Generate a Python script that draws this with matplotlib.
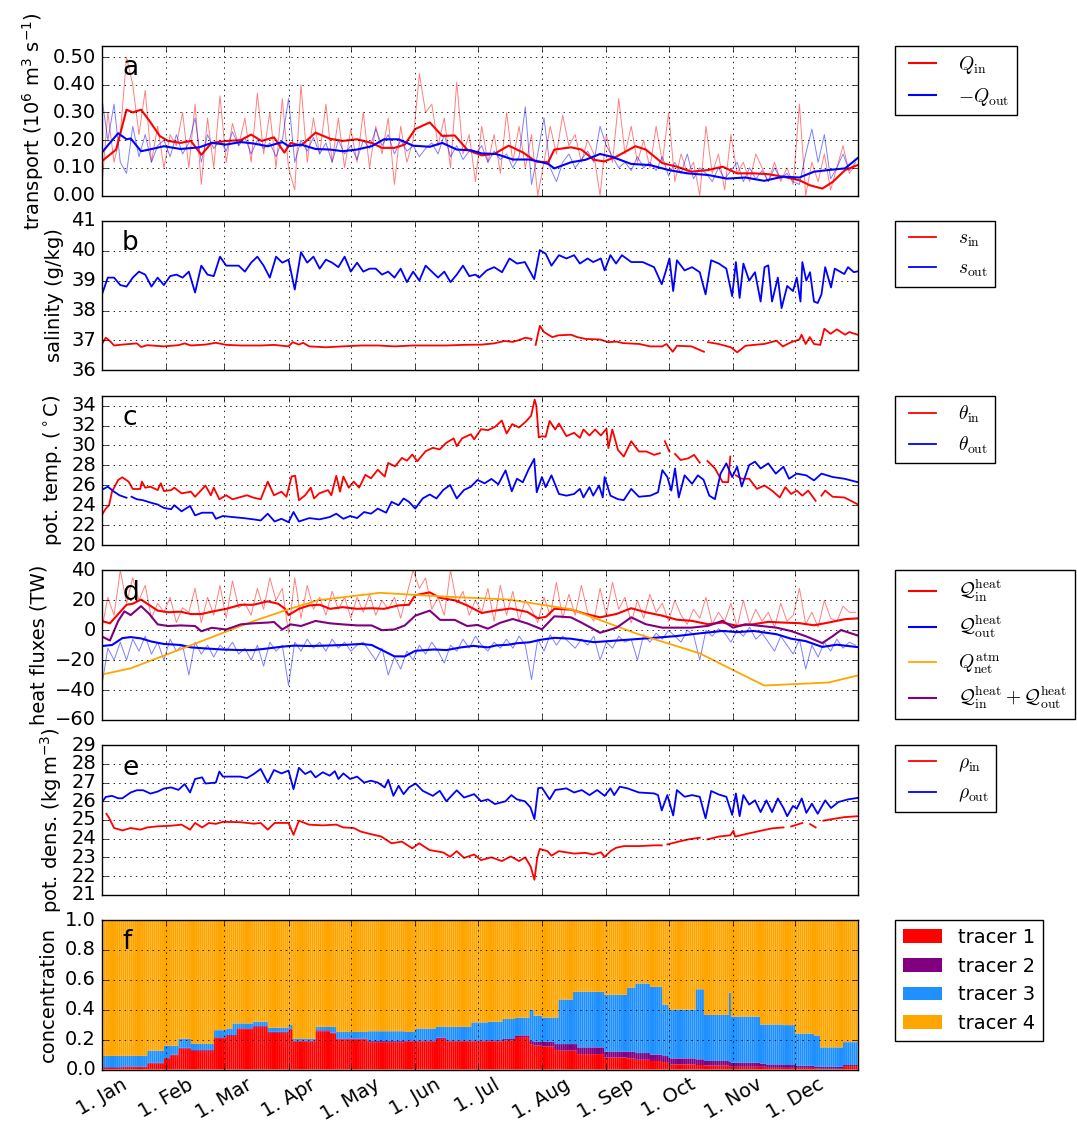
import numpy as np
import matplotlib
matplotlib.use('Agg')
import matplotlib.pyplot as plt
import matplotlib.dates as mdates
from matplotlib.ticker import FuncFormatter, FormatStrFormatter, MultipleLocator, NullFormatter
import datetime as dt

nan = np.nan

# ---------------- panel a: volume transport (10^6 m^3/s) ----------------
# raw values, every 3rd day
qin_raw = [0.02, 0.30, 0.12, 0.22, 0.50, 0.40, 0.22, 0.38, 0.12, 0.25,
           0.10, 0.22, 0.18, 0.30, 0.10, 0.33, 0.04, 0.28, 0.10, 0.36,
           0.12, 0.26, 0.18, 0.28, 0.12, 0.37, 0.15, 0.30, 0.10, 0.35,
           0.10, 0.02, 0.40, 0.12, 0.28, 0.15, 0.33, 0.12, 0.28, 0.10,
           0.24, 0.12, 0.30, 0.10, 0.25, 0.15, 0.28, 0.04, 0.25, 0.12,
           0.20, 0.44, 0.30, 0.33, 0.18, 0.28, 0.10, 0.41, 0.15, 0.22,
           0.05, 0.25, 0.12, 0.22, 0.08, 0.30, 0.12, 0.25, 0.10, 0.22,
           0.00, 0.12, 0.25, 0.15, 0.29, 0.18, 0.22, 0.12, 0.20, 0.15,
           0.00, 0.22, 0.12, 0.35, 0.15, 0.25, 0.12, 0.20, 0.10, 0.25,
           0.12, 0.30, 0.05, 0.15, 0.08, 0.12, 0.00, 0.25, 0.08, 0.15,
           0.02, 0.22, 0.08, 0.12, 0.05, 0.15, 0.10, 0.05, 0.12, 0.05,
           0.10, 0.04, 0.33, 0.00, 0.12, 0.05, 0.15, 0.02, 0.10, 0.18,
           0.08, 0.11]
qout_raw = [0.36, 0.20, 0.33, 0.12, 0.08, 0.25, 0.14, 0.22, 0.12, 0.18,
            0.20, 0.14, 0.22, 0.15, 0.19, 0.28, 0.12, 0.22, 0.17, 0.20,
            0.16, 0.23, 0.18, 0.21, 0.15, 0.20, 0.17, 0.19, 0.14, 0.20,
            0.35, 0.12, 0.20, 0.16, 0.21, 0.15, 0.19, 0.12, 0.20, 0.15,
            0.18, 0.13, 0.20, 0.17, 0.24, 0.18, 0.22, 0.15, 0.20, 0.16,
            0.18, 0.14, 0.17, 0.19, 0.15, 0.22, 0.14, 0.18, 0.13, 0.16,
            0.15, 0.18, 0.12, 0.16, 0.13, 0.15, 0.10, 0.14, 0.32, 0.04,
            0.15, 0.28, 0.10, 0.05, 0.12, 0.15, 0.10, 0.13, 0.16, 0.12,
            0.25, 0.18, 0.14, 0.10, 0.12, 0.09, 0.14, 0.10, 0.12, 0.09,
            0.14, 0.07, 0.12, 0.08, 0.15, 0.06, 0.10, 0.08, 0.05, 0.10,
            0.06, 0.09, 0.12, 0.05, 0.10, 0.06, 0.09, 0.05, 0.10, 0.06,
            0.08, 0.05, 0.04, 0.15, 0.24, 0.12, 0.22, 0.06, 0.10, 0.15,
            0.09, 0.12]
# smoothed
qin_s_days = [0, 7, 12, 15, 19, 23, 28, 32, 38, 43, 48, 53, 60, 67, 72, 77, 83, 88, 91, 96,
              103, 110, 116, 123, 130, 135, 141, 146, 151, 158, 164, 170, 176, 183, 189, 196, 203, 209, 215, 218,
              226, 231, 237, 242, 248, 257, 262, 270, 277, 284, 292, 299, 306, 314, 321, 328, 336, 341, 347, 352,
              358, 364]
qin_s = [0.123, 0.166, 0.31, 0.30, 0.31, 0.27, 0.215, 0.197, 0.19, 0.197,
         0.147, 0.19, 0.197, 0.20, 0.22, 0.197, 0.21, 0.155, 0.19, 0.18,
         0.227, 0.205, 0.197, 0.203, 0.19, 0.172, 0.172, 0.184, 0.24, 0.264,
         0.215, 0.217, 0.166, 0.145, 0.15, 0.18, 0.155, 0.123, 0.12, 0.166,
         0.174, 0.166, 0.129, 0.123, 0.141, 0.178, 0.166, 0.117, 0.104, 0.086,
         0.092, 0.104, 0.08, 0.08, 0.077, 0.068, 0.055, 0.037, 0.025, 0.049,
         0.092, 0.11]
qout_s_days = [0, 4, 8, 12, 14, 19, 23, 30, 38, 47, 53, 60, 67, 73, 80, 87, 90, 96, 103, 110,
               116, 123, 130, 136, 143, 150, 158, 164, 171, 178, 183, 190, 198, 206, 212, 215, 218, 226, 233, 240,
               246, 255, 264, 273, 282, 292, 301, 310, 319, 328, 336, 343, 350, 358, 364]
qout_s = [0.154, 0.19, 0.225, 0.203, 0.206, 0.16, 0.166, 0.178, 0.168, 0.174,
          0.19, 0.184, 0.193, 0.188, 0.178, 0.193, 0.178, 0.184, 0.168, 0.166,
          0.16, 0.166, 0.178, 0.203, 0.203, 0.18, 0.176, 0.19, 0.166, 0.163,
          0.152, 0.15, 0.13, 0.13, 0.12, 0.114, 0.098, 0.12, 0.129, 0.15,
          0.139, 0.114, 0.11, 0.092, 0.08, 0.074, 0.061, 0.065, 0.053, 0.068,
          0.065, 0.086, 0.092, 0.098, 0.135]

# ---------------- panel b: salinity (g/kg) ----------------
sin_days = [0, 2, 4, 6, 10, 17, 19, 22, 30, 37, 40, 43, 50, 55, 60, 67, 77, 83, 90, 92,
            95, 97, 100, 108, 116, 125, 133, 141, 150, 158, 166, 174, 183, 189, 194, 198, 201, 204, 207, 208,
            209, 211, 213, 217, 220, 226, 229, 233, 240, 244, 248, 251, 259, 264, 270, 272, 275, 277, 284, 290,
            291, 292, 297, 303, 306, 310, 314, 319, 325, 328, 332, 336, 337, 339, 341, 343, 346, 348, 351, 354,
            358, 360, 364]
sin_vals = [36.86, 37.09, 36.98, 36.83, 36.86, 36.9, 36.78, 36.84, 36.8, 36.84,
            36.9, 36.83, 36.86, 36.92, 36.85, 36.83, 36.83, 36.85, 36.8, 36.94,
            36.86, 36.92, 36.8, 36.77, 36.8, 36.83, 36.83, 36.8, 36.83, 36.83,
            36.83, 36.85, 36.86, 36.9, 36.98, 36.95, 37.01, 37.09, 37.05, nan,
            36.85, 37.49, 37.28, 37.11, 37.17, 37.19, 37.11, 37.05, 37.03, 36.94,
            36.96, 36.91, 36.88, 36.8, 36.8, 36.88, 36.62, 36.82, 36.8, 36.62,
            nan, 36.94, 36.88, 36.77, 36.6, 36.82, 36.85, 36.88, 36.99, 36.8,
            36.94, 37.03, 37.19, 36.88, 37.11, 36.88, 36.85, 37.39, 37.22, 37.37,
            37.19, 37.28, 37.19]
sout_days = [0, 3, 6, 9, 12, 15, 18, 21, 24, 27, 30, 33, 36, 39, 42, 45, 48, 51, 54, 57,
             60, 63, 66, 69, 72, 75, 78, 81, 84, 87, 90, 93, 96, 99, 102, 105, 108, 111, 114, 117,
             120, 123, 126, 129, 132, 135, 138, 141, 144, 147, 150, 153, 156, 159, 162, 165, 168, 171, 174, 177,
             180, 181.8, 185.4, 189, 192.8, 196.4, 200, 203.8, 206.5, 208.3, 211, 213.8, 216.6, 220.2, 223.8, 227.5,
             230.3, 234, 236.7, 240.4, 242.2, 245, 247.7, 250.5, 255, 260.5, 266, 269.7, 271.5, 273.4, 275.2, 277,
             280.7, 284.3, 288, 290.8, 293.5, 297.2, 300.8, 303.6, 305.4, 307.2, 309, 311.8, 314.6, 317.3, 319.2,
             321, 322.8, 325.6, 327.4, 330.1, 332.9, 334.7, 336.5, 337.4, 339.3, 341.1, 343, 344.8, 346.6, 348.4,
             351.2, 353, 357.6, 359.4, 362.2, 364]
sout_vals = [38.5, 39.1, 39.1, 38.85, 38.8, 39.1, 39.3, 39.2, 38.8, 39.1,
             38.85, 39.15, 39.2, 39.1, 39.3, 38.6, 39.5, 39.2, 39.15, 39.8,
             39.5, 39.5, 39.5, 39.3, 39.6, 39.8, 39.5, 39.1, 39.8, 39.6,
             39.7, 38.7, 39.95, 39.6, 39.8, 39.4, 39.7, 39.6, 39.45, 39.8,
             39.3, 39.6, 39.3, 39.4, 39.4, 39.2, 39.3, 39.1, 39.4, 38.95,
             39.3, 39.0, 39.5, 39.3, 39.1, 39.3, 38.95, 39.2, 39.5, 39.15,
             39.2, 39.1, 39.34, 39.45, 39.28, 39.74, 39.57, 39.62, 39.28, 39.05,
             40.02, 39.9, 39.5, 39.85, 39.74, 39.85, 39.57, 39.74, 39.62, 39.74,
             39.34, 39.85, 39.57, 39.85, 39.62, 39.62, 39.45, 38.88, 39.28, 39.74,
             38.65, 39.68, 39.34, 39.45, 39.28, 38.54, 39.68, 39.57, 39.4, 38.48,
             39.62, 38.42, 39.57, 39.0, 39.28, 38.3, 39.45, 39.51, 38.3, 39.1,
             38.08, 38.82, 38.65, 39.1, 38.3, 39.62, 39.0, 39.28, 38.3, 38.25,
             38.54, 39.45, 38.77, 39.4, 39.22, 39.45, 39.28, 39.31]

# ---------------- panel c: potential temperature (deg C) ----------------
thin_days = [0, 2, 3.6, 5, 8, 10, 13, 15, 18.6, 19.4, 21, 23.5, 27, 28.5, 30, 33.5, 35, 38.5, 43, 45,
             50, 52.6, 54, 56.7, 60, 63, 70, 73.3, 76.6, 80, 83, 86.6, 89, 91.5, 93.2, 95, 98, 100.7, 102.3, 104.8,
             109, 110.6, 113, 114.8, 116.4, 119, 121.4, 124, 127, 129.7, 133, 136.3, 138, 141.3, 144.6, 147, 149.6, 152, 156, 159.5,
             162.8, 166, 169.5, 171, 173.6, 177.8, 179.4, 182.7, 186, 189.4, 192.7, 195, 197.7, 201, 204.3, 206.8, 208.5, 209.3, 210.5, 212,
             213.8, 215.7, 218.4, 220.2, 223.8, 227.5, 230.3, 232, 234.9, 237.6, 240.4, 243.1, 244, 245.9, 248.6, 251.4, 255, 258.7, 262.4, 266,
             268.8, 270, 271.2, 273.4, 274.5, 276.1, 278.8, 282.5, 285.3, 288, 290, 291.7, 295.3, 299, 301.7, 302.7, 304, 305.4, 308.2, 311.8,
             315.5, 319.2, 322.8, 326.5, 329.2, 332, 334.7, 337.4, 340.2, 343.8, 345, 346.6, 348.4, 352, 357.6, 364]
thin_vals = [22.98, 23.66, 24.0, 25.36, 26.54, 26.8, 26.37, 25.63, 25.63, 26.37, 25.76, 25.86, 25.52, 26.2, 25.42, 25.52, 25.76, 25.19, 25.36, 24.85,
             25.97, 25.0, 25.76, 24.6, 25.0, 24.6, 25.0, 24.75, 24.6, 26.37, 25.0, 25.36, 24.85, 26.9, 26.95, 24.5, 25.0, 25.76, 24.68, 25.19,
             25.52, 25.0, 26.95, 25.36, 26.88, 25.76, 26.37, 25.76, 27.05, 26.7, 27.56, 26.88, 28.24, 27.9, 28.75, 28.47, 29.09, 28.41, 29.42, 29.76,
             29.6, 30.27, 30.71, 29.93, 30.71, 31.12, 30.61, 31.63, 31.53, 31.86, 32.5, 31.2, 32.14, 31.8, 32.4, 32.98, 34.6, 34.0, 30.8, 30.93,
             30.86, 32.46, 31.6, 32.2, 30.93, 31.27, 30.76, 31.6, 31.0, 31.6, 31.0, 31.68, 29.73, 31.6, 29.56, 28.88, 30.42, 29.39, 29.39, 29.05,
             29.22, nan, 30.42, 29.39, nan, 29.15, 28.54, 28.71, 29.05, 28.27, nan, 28.44, 27.69, 26.32, 26.32, 28.88, nan, 27.0, 26.66, 26.66,
             25.64, 25.98, 25.47, 24.78, 25.81, 25.13, 25.47, 24.96, 25.47, 24.44, nan, 24.96, 25.47, 24.85, 24.78, 24.1]
thout_days = [0, 3, 6, 8.6, 12, 13, 14.4, 17, 20, 23.5, 27, 30, 33.5, 35, 38.5, 42.6, 45, 48.4, 53.4, 55,
              58.4, 63.3, 68.3, 73.3, 76.6, 80, 83.3, 86.6, 90, 92.4, 95, 100, 104.8, 109.8, 113, 116.4, 119.7, 123, 126.4, 129.7,
              133, 137, 139.6, 143, 145.4, 148, 151, 154.6, 158, 161.2, 164.5, 167.8, 171, 174.5, 177.8, 181, 184.4, 187.7, 191, 194.5,
              197.5, 200, 202.8, 205.6, 208.3, 209.5, 212, 213.8, 216.6, 220.2, 223.8, 227.5, 230.3, 232, 234.9, 236.7, 239.5, 241.3, 242.2, 245,
              248.6, 251.4, 255, 258.7, 264.2, 267.9, 270, 272.4, 274.3, 276.1, 277.9, 280.7, 284.3, 287.1, 289.8, 292.6, 295.3, 298, 300.8, 303.6,
              306, 308.2, 311.8, 314.6, 317.3, 321, 324.6, 328.3, 331, 334.7, 339.3, 343, 346.6, 352, 357.6, 364]
thout_vals = [25.53, 25.86, 25.36, 25.0, 24.75, nan, 24.85, 24.6, 24.5, 24.27, 24.07, 23.73, 23.6, 24.0, 23.39, 23.93, 22.98, 23.25, 23.25, 22.64,
              22.92, 22.81, 22.71, 22.58, 22.47, 23.15, 22.37, 22.64, 22.3, 23.32, 22.37, 22.71, 22.58, 22.81, 23.15, 22.64, 22.92, 22.71, 23.32, 23.15,
              23.66, 23.25, 24.34, 24.0, 24.68, 24.34, 23.66, 24.68, 25.08, 24.68, 25.53, 26.03, 24.68, 25.53, 25.86, 26.54, 26.2, 26.64, 26.1, 27.5,
              25.4, 26.66, 26.3, 27.6, 28.65, 25.3, 26.83, 25.81, 27.0, 25.13, 24.96, 25.13, 25.64, 24.78, 25.81, 24.96, 25.98, 24.78, 26.83, 24.96,
              24.61, 24.51, 25.64, 24.85, 24.96, 25.3, 27.52, 26.83, 25.47, 27.69, 24.78, 27.0, 26.15, 27.0, 26.56, 24.96, 24.61, 27.17, 28.2, 26.83,
              27.86, 25.88, 28.03, 28.37, 27.69, 28.2, 27.17, 27.86, 26.66, 27.17, 27.0, 26.49, 27.17, 26.83, 26.66, 26.32]

# ---------------- panel d: heat fluxes (TW) ----------------
hin_raw = [0, 22, 10, 40, 18, 35, 20, 30, 8, 18,
           12, 22, 5, 15, 12, 28, 5, 22, 10, 30,
           8, 33, 15, 18, 10, 28, 14, 35, 20, 28,
           -2, 35, 8, 30, 14, 22, 10, 26, 14, 22,
           8, 22, 12, 24, 10, 20, 14, 22, 8, 24,
           40, 28, 35, 14, 22, 10, 40, 18, 26, 10,
           20, 12, 28, 6, 30, 10, 26, 6, 20, 14,
           5, 22, 10, 32, 8, 24, 10, 30, 12, 6,
           28, 10, 32, 14, 22, 5, 20, 8, 24, 12,
           18, 6, 20, 10, 4, 14, 8, 22, 4, 12,
           6, 18, 2, 20, 4, 14, 6, 12, 2, 18,
           6, 10, 28, 4, 12, 2, 20, 8, 6, 16,
           12, 12]
hout_raw = [-38, -12, -20, -8, -20, -6, -14, -4, -16, -8,
            -20, -6, -14, -10, -30, -8, -16, -10, -18, -10,
            -14, -8, -16, -12, -20, -10, -24, -8, -14, -10,
            -37, -8, -14, -6, -12, -8, -14, -6, -12, -8,
            -14, -10, -8, -14, -20, -12, -30, -18, -26, -14,
            -20, -10, -16, -8, -14, -22, -10, -14, -6, -12,
            -4, -10, -14, -8, -12, -6, -12, -4, -10, -33,
            -6, -14, -3, -10, -4, -8, -12, -6, -10, -4,
            -20, -8, -12, -4, -8, -6, -20, -3, -8, -2,
            -6, 0, -4, -8, 0, -3, -20, 0, -4, 1,
            -2, -8, 0, -4, 2, -6, -2, -8, -14, -4,
            -10, -16, -6, -26, -10, -18, -8, -14, -6, -12,
            -8, -10]
hin_s_days = [0, 4, 8, 12, 15, 19, 22, 27, 32, 38, 43, 48, 53, 60, 67, 73, 80, 85, 88, 90,
              95, 100, 105, 110, 116, 123, 130, 136, 143, 148, 151, 158, 163, 170, 176, 183, 189, 197, 205, 210,
              214, 218, 226, 233, 240, 248, 255, 262, 270, 277, 284, 292, 299, 306, 314, 321, 328, 336, 343, 350,
              358, 364]
hin_s = [6.2, 4.6, 10.8, 17, 17.7, 20.5, 17.7, 13.1, 12, 12.4,
         10.8, 10.8, 12.4, 14.3, 17, 17, 19.3, 17.7, 14.7, 10.1,
         14.3, 16.6, 17, 14.3, 15.4, 14.3, 14.7, 14.3, 16.6, 17,
         23.4, 25.3, 21.6, 20, 16.6, 11.5, 13, 14.5, 12.2, 8,
         9, 14.3, 13.8, 10.9, 8.6, 10.9, 14.7, 12, 9.7, 7,
         6.3, 4, 5.1, 2.9, 4, 5.6, 5.1, 4.7, 3.3, 5.1,
         7.4, 7.9]
hout_s_days = [0, 5, 10, 14, 19, 24, 30, 38, 43, 50, 58, 67, 73, 80, 87, 93, 100, 108, 116, 125,
               130, 135, 141, 146, 151, 160, 166, 173, 179, 186, 190, 196, 200, 206, 211, 218, 226, 237, 244, 255,
               266, 277, 288, 299, 306, 314, 325, 332, 339, 347, 354, 364]
hout_s = [-10.6, -9.9, -5.3, -4.6, -5.5, -7.6, -9.2, -9.9, -11.5, -12.2,
          -12.9, -13.3, -13.3, -12.2, -11, -10.3, -10.6, -10.3, -9.9, -9.2,
          -9.9, -13.3, -17.5, -17.5, -13.8, -12.9, -13.3, -11.5, -10.5, -11.5,
          -10.2, -9.7, -8.7, -8.1, -6.5, -5.1, -5.7, -8, -7.3, -6.2,
          -5.1, -3.9, -2.1, -0.5, -1.3, -0.5, -2.7, -5.7, -7.3, -11.2,
          -9.7, -11.3]
qatm_days = [0, 14, 45, 73, 90, 104, 134, 165, 196, 226, 257, 288, 319, 350, 364]
qatm_vals = [-29.7, -25.5, -9, 6, 14, 20, 25, 22.5, 20.5, 14, -2, -15.5, -37, -35, -30.3]
hsum_days = [0, 4, 8, 11, 14, 19, 23, 27, 32, 38, 45, 48, 53, 60, 67, 73, 80, 83, 87, 91,
             96, 103, 110, 116, 123, 130, 135, 141, 146, 151, 158, 163, 170, 176, 181, 186, 192, 198, 205, 212,
             218, 226, 231, 237, 240, 248, 255, 262, 270, 277, 284, 292, 299, 304, 310, 317, 325, 332, 339, 347,
             352, 356, 364]
hsum_vals = [-4.1, -6.9, 6.2, 12.6, 10.1, 16.1, 10.8, 3.9, 2.8, 3.2,
             2.8, -0.7, 1.6, 0.5, 3.9, 4.6, 5.1, 5.5, 0.5, 3.9,
             2.8, 6.2, 4.6, 3.9, 3.2, 3.2, 0, 0.5, 3.2, 9.7,
             13.1, 6.9, 6.9, 2.8, 3.5, 1.0, 5.0, 7.5, 4.5, 0.6,
             9.3, 8.6, 5.1, 0.6, -1.7, 1.7, 8.6, 4, 1.7, 1.7,
             1.7, 2.9, 6.3, 1.7, 4, 2.9, 1.7, -0.6, -4, -8.6,
             -4, 0.1, -3.5]

# ---------------- panel e: potential density (kg/m^3) ----------------
rin_days = [2.3, 3.6, 6, 10, 14, 18.6, 22, 27, 33.5, 38.5, 42.6, 45, 48.4, 51.7, 55, 58.4, 66.7, 73.3, 76.6, 80,
            83.3, 90, 92.4, 95, 99.8, 106.5, 113, 116.4, 121.4, 124.7, 129.7, 134.7, 139.6, 144.6, 149.6, 152.9, 157.9, 164.5, 167.8, 171,
            174.5, 179.4, 182.7, 187.7, 192.7, 197, 201, 204, 206.6, 208.4, 209.8, 211, 214.7, 216.6, 220.2, 227.5, 233, 236.7, 240.4, 242.2,
            245, 247.7, 251.4, 258.7, 266, 269.7, 270.8, 272.4, 277, 282.5, 288, 289.5, 291.7, 297.2, 302.7, 304.2, 305, 310, 317.3, 322.8,
            328.3, 329.5, 332, 337.4, 338.5, 341.1, 343.8, 345, 347.5, 352, 357.6, 364]
rin_vals = [25.33, 25.11, 24.57, 24.44, 24.57, 24.48, 24.6, 24.66, 24.69, 24.75, 24.48, 24.84, 24.6, 24.84, 24.79, 24.9, 24.88, 24.8, 24.84, 24.48,
            24.84, 24.84, 24.2, 24.96, 24.75, 24.71, 24.75, 24.6, 24.57, 24.38, 24.24, 24.11, 23.75, 23.84, 23.48, 23.75, 23.39, 23.26, 23.03, 23.33,
            22.97, 23.15, 22.85, 23.0, 22.8, 23.05, 22.8, 23.0, 22.5, 21.8, 23.0, 23.45, 23.33, 23.09, 23.33, 23.2, 23.24, 23.15, 23.27, 23.02,
            23.33, 23.51, 23.6, 23.6, 23.64, 23.64, nan, 23.69, 23.82, 23.96, 24.05, nan, 23.96, 24.11, 24.18, 24.42, 24.11, 24.24, 24.42, 24.55,
            24.6, nan, 24.65, 24.84, nan, 24.78, 24.6, nan, 24.96, 25.05, 25.15, 25.2]
rout_days = [0, 2, 5, 8, 10, 14, 17, 20, 23.5, 27, 30, 33.5, 37, 40, 42.6, 45, 48.4, 50, 55, 56.7,
             58.4, 61.7, 66.7, 70, 73.3, 76.6, 80, 83, 86.6, 90, 92.4, 95, 98, 100.7, 103, 106.5, 109.8, 112.3, 114, 116.4,
             119.7, 123, 126.4, 129.7, 133, 136.3, 138, 140.5, 143, 145.4, 148, 151.2, 154.6, 159.5, 162.8, 166, 171, 174.5, 179.4, 182.7,
             186, 189.4, 194.5, 197.3, 200, 203.8, 206.5, 208.4, 210.2, 212, 215.7, 218.4, 223.8, 227.5, 231.2, 234.9, 238.6, 242.2, 245, 246.8,
             249.5, 253.2, 258.7, 266, 267.9, 269.7, 272.4, 275.2, 277, 280.7, 284.3, 288, 290.8, 293.5, 297.2, 300.8, 303.6, 305.4, 307.2, 309,
             311.8, 314.6, 317.3, 320.1, 322.8, 325.6, 328.3, 330.1, 332.9, 334.7, 337.1, 339.3, 342, 344.8, 348.4, 351.2, 354.8, 359.4, 364]
rout_vals = [25.92, 26.23, 26.29, 26.16, 26.16, 26.47, 26.59, 26.59, 26.41, 26.52, 26.68, 26.74, 26.61, 26.92, 26.47, 27.19, 27.28, 26.95, 27.0, 27.59,
             27.32, 27.32, 27.32, 27.24, 27.46, 27.73, 27.0, 27.67, 27.49, 27.64, 26.65, 27.79, 27.46, 27.61, 27.28, 27.55, 27.37, 27.61, 27.19, 27.49,
             27.19, 27.32, 27.0, 27.1, 27.0, 26.74, 27.15, 26.29, 26.83, 26.38, 26.74, 26.95, 26.56, 26.29, 26.56, 26.0, 26.59, 26.2, 26.38, 26.0,
             26.1, 25.85, 26.0, 26.33, 26.1, 26.0, 25.67, 25.05, 26.7, 26.73, 26.1, 26.6, 26.69, 26.47, 26.6, 26.33, 26.6, 26.29, 26.69, 26.33,
             26.78, 26.69, 26.47, 26.42, 26.33, 25.51, 26.33, 25.24, 26.6, 26.24, 26.33, 26.24, 25.09, 26.55, 26.36, 26.24, 25.27, 26.42, 25.2, 26.33,
             25.82, 26.05, 25.42, 26.05, 25.42, 26.15, 25.64, 25.2, 25.75, 25.6, 26.15, 25.38, 25.87, 25.33, 26.05, 25.64, 25.96, 26.1, 26.18]

# ---------------- panel f: tracer concentrations (piecewise constant periods) ----------------
trc_start = [0, 10, 22, 30, 33, 37, 43, 54, 60, 63, 65, 73, 80, 90, 92, 103, 110, 113, 128, 146,
             151, 161, 166, 178, 186, 193, 199, 206, 208, 212, 218, 220, 227, 229, 242, 253, 257, 264, 270, 273,
             286, 290, 302, 303, 317, 320, 328, 334, 343, 346, 357]
trc_end = 364
tracer1 = [0.010, 0.016, 0.040, 0.073, 0.096, 0.140, 0.125, 0.210, 0.224, 0.224, 0.270, 0.285, 0.246, 0.267, 0.187, 0.256, 0.240, 0.200, 0.183, 0.187,
           0.187, 0.205, 0.187, 0.187, 0.188, 0.194, 0.217, 0.170, 0.160, 0.155, 0.130, 0.126, 0.126, 0.103, 0.080, 0.075, 0.065, 0.057, 0.050, 0.034,
           0.030, 0.027, 0.022, 0.018, 0.018, 0.011, 0.011, 0.011, 0.008, 0.005, 0.023]
tracer2 = [0.005, 0.004, 0.005, 0.004, 0.004, 0.005, 0.005, 0.005, 0.006, 0.006, 0.005, 0.005, 0.006, 0.005, 0.005, 0.006, 0.006, 0.007, 0.007, 0.008,
           0.008, 0.008, 0.008, 0.008, 0.008, 0.010, 0.011, 0.020, 0.025, 0.030, 0.040, 0.044, 0.044, 0.045, 0.040, 0.043, 0.045, 0.043, 0.040, 0.040,
           0.038, 0.030, 0.028, 0.027, 0.022, 0.023, 0.019, 0.014, 0.012, 0.013, 0.007]
tracer3 = [0.076, 0.071, 0.081, 0.083, 0.060, 0.060, 0.041, 0.048, 0.044, 0.078, 0.033, 0.030, 0.027, 0.025, 0.013, 0.023, 0.039, 0.044, 0.066, 0.056,
           0.079, 0.072, 0.090, 0.120, 0.124, 0.134, 0.119, 0.210, 0.175, 0.162, 0.177, 0.298, 0.350, 0.372, 0.380, 0.430, 0.465, 0.453, 0.344, 0.326,
           0.469, 0.308, 0.464, 0.309, 0.261, 0.267, 0.267, 0.215, 0.208, 0.130, 0.153]

# ---------------------------------------------------------------------------
plt.style.use('classic')
plt.rcParams.update({
    'font.family': 'DejaVu Sans', 'font.size': 14, 'mathtext.fontset': 'dejavusans',
    'figure.facecolor': 'w', 'savefig.facecolor': 'w', 'legend.fontsize': 14,
    'axes.linewidth': 1.0, 'grid.linestyle': ':', 'grid.color': 'k', 'grid.linewidth': 0.6,
})

T0 = mdates.date2num(dt.datetime(2014, 1, 1))


def X(days):
    return T0 + np.asarray(days, dtype=float)


def every3(vals):
    return X(np.arange(len(vals)) * 3)


W, H = 1077.0, 1124.0
fig = plt.figure(figsize=(10.77, 11.24), dpi=100)
axs = []
for i in range(6):
    top = 46 + 174.8 * i
    ax = fig.add_axes([101.6 / W, 1 - (top + 149.5) / H, 756 / W, 149.5 / H])
    axs.append(ax)

leg_kw = dict(loc='upper left', bbox_to_anchor=(1.05, 1.0), borderaxespad=0.,
              prop=dict(size=14, math_fontfamily='cm'))

# a
ax = axs[0]
ax.plot(every3(qin_raw), qin_raw, color='r', lw=0.7, alpha=0.5)
ax.plot(every3(qout_raw), qout_raw, color='b', lw=0.7, alpha=0.5)
la, = ax.plot(X(qin_s_days), qin_s, color='r', lw=1.5)
lb, = ax.plot(X(qout_s_days), qout_s, color='b', lw=1.5)
ax.set_ylim(0, 0.54)
ax.yaxis.set_major_locator(MultipleLocator(0.1))
ax.yaxis.set_major_formatter(FormatStrFormatter('%.2f'))
ax.set_ylabel('transport (10$^6$ m$^3$ s$^{-1}$)')
ax.legend([la, lb], [r'$Q_\mathrm{in}$', r'$-Q_\mathrm{out}$'], **leg_kw)

# b
ax = axs[1]
l1, = ax.plot(X(sin_days), sin_vals, color='r', lw=1.3)
l2, = ax.plot(X(sout_days), sout_vals, color='b', lw=1.3)
ax.set_ylim(36, 41)
ax.yaxis.set_major_locator(MultipleLocator(1))
ax.set_ylabel('salinity (g/kg)')
ax.legend([l1, l2], [r'$s_\mathrm{in}$', r'$s_\mathrm{out}$'], **leg_kw)

# c
ax = axs[2]
l1, = ax.plot(X(thin_days), thin_vals, color='r', lw=1.3)
l2, = ax.plot(X(thout_days), thout_vals, color='b', lw=1.3)
ax.set_ylim(20, 35)
ax.yaxis.set_major_locator(MultipleLocator(2))
ax.set_ylabel(r'pot. temp. ($^\circ$C)')
ax.legend([l1, l2], [r'$\theta_\mathrm{in}$', r'$\theta_\mathrm{out}$'], **leg_kw)

# d
ax = axs[3]
ax.plot(every3(hin_raw), hin_raw, color='r', lw=0.7, alpha=0.5)
ax.plot(every3(hout_raw), hout_raw, color='b', lw=0.7, alpha=0.5)
l1, = ax.plot(X(hin_s_days), hin_s, color='r', lw=1.5)
l2, = ax.plot(X(hout_s_days), hout_s, color='b', lw=1.5)
l3, = ax.plot(X(qatm_days), qatm_vals, color='orange', lw=1.3)
l4, = ax.plot(X(hsum_days), hsum_vals, color='purple', lw=1.5)
ax.set_ylim(-60, 40)
ax.yaxis.set_major_locator(MultipleLocator(20))
ax.set_ylabel('heat fluxes (TW)')
ax.legend([l1, l2, l3, l4],
          [r'$\mathcal{Q}_\mathrm{in}^\mathrm{heat}$', r'$\mathcal{Q}_\mathrm{out}^\mathrm{heat}$',
           r'$Q_\mathrm{net}^\mathrm{atm}$',
           r'$\mathcal{Q}_\mathrm{in}^\mathrm{heat}+\mathcal{Q}_\mathrm{out}^\mathrm{heat}$'], **leg_kw)

# e
ax = axs[4]
l1, = ax.plot(X(rin_days), rin_vals, color='r', lw=1.3)
l2, = ax.plot(X(rout_days), rout_vals, color='b', lw=1.3)
ax.set_ylim(21, 29)
ax.yaxis.set_major_locator(MultipleLocator(1))
ax.set_ylabel(r'pot. dens. (kg$\,$m$^{-3}$)')
ax.legend([l1, l2], [r'$\rho_\mathrm{in}$', r'$\rho_\mathrm{out}$'], **leg_kw)

# f
ax = axs[5]
lengths = np.diff(np.append(trc_start, trc_end))
days = np.arange(trc_start[0], trc_end)
c1 = np.repeat(tracer1, lengths)
c2 = np.repeat(tracer2, lengths)
c3 = np.repeat(tracer3, lengths)
c4 = 1.0 - (c1 + c2 + c3)
bottom = np.zeros_like(c1)
handles = []
for c, col, lab in [(c1, 'red', 'tracer 1'), (c2, 'purple', 'tracer 2'),
                    (c3, '#1e90ff', 'tracer 3'), (c4, 'orange', 'tracer 4')]:
    b = ax.bar(X(days), c, width=1.0, bottom=bottom, align='edge', color=col,
               linewidth=0, label=lab)
    for p in b.patches:
        p.set_snap(False)
    handles.append(b)
    bottom = bottom + c
ax.set_ylim(0, 1)
ax.yaxis.set_major_locator(MultipleLocator(0.2))
ax.yaxis.set_major_formatter(FormatStrFormatter('%.1f'))
ax.set_ylabel('concentration')
ax.legend(handles, ['tracer 1', 'tracer 2', 'tracer 3', 'tracer 4'], **leg_kw)

letters = 'abcdef'
for i, ax in enumerate(axs):
    ax.set_xlim(T0, T0 + 364)
    ax.xaxis.set_major_locator(mdates.MonthLocator())
    ax.grid(True)
    ax.set_axisbelow(False)
    ax.text(0.027, 0.85, letters[i], transform=ax.transAxes, fontsize=19,
            ha='left', va='center')
    if i < 5:
        ax.xaxis.set_major_formatter(NullFormatter())
    else:
        ax.xaxis.set_major_formatter(FuncFormatter(
            lambda x, pos: '%d. %s' % (mdates.num2date(x).day, mdates.num2date(x).strftime('%b'))))
        ax.tick_params(axis='x', labelrotation=30)

fig.savefig('out.png', dpi=100)
